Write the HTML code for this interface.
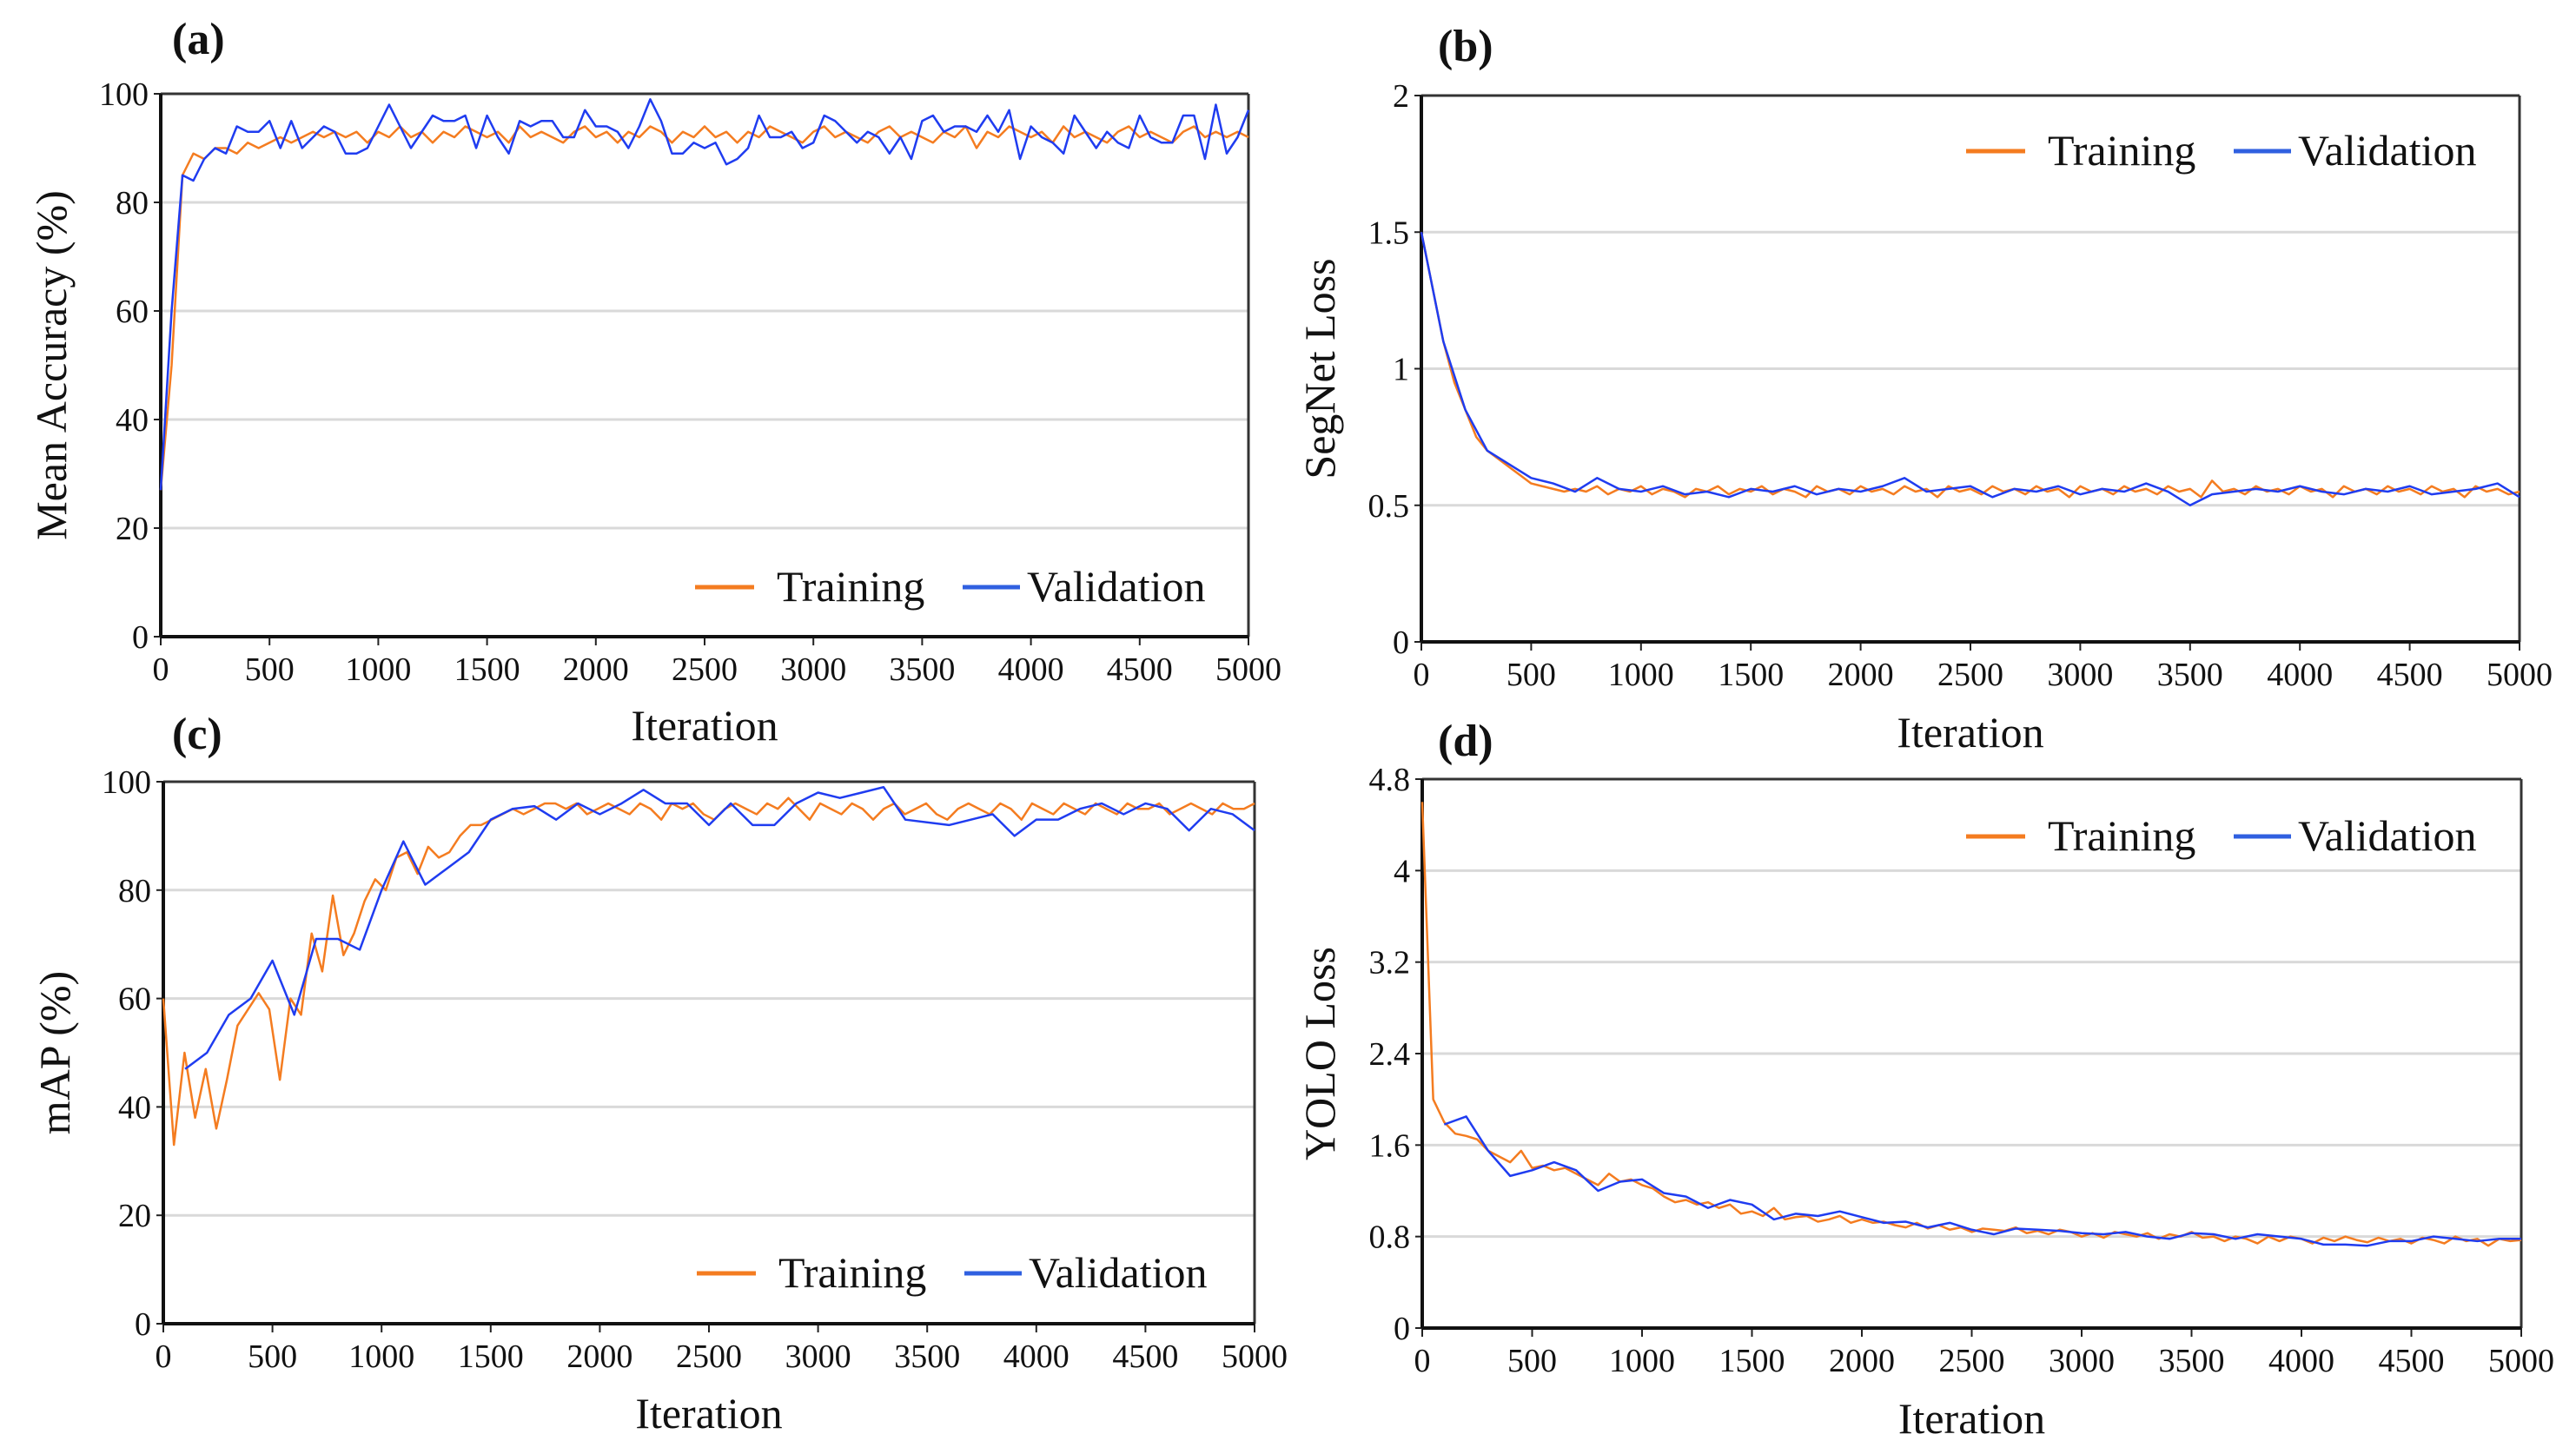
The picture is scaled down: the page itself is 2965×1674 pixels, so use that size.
<!DOCTYPE html>
<html><head><meta charset="utf-8"><style>
body{margin:0;background:#fff}
svg{display:block}
text{font-family:"Liberation Serif",serif;fill:#111}
</style></head><body>
<svg id="fig" width="2965" height="1674" viewBox="0 0 2965 1674" xmlns="http://www.w3.org/2000/svg"></svg>
<script>
const xTicks=[0,500,1000,1500,2000,2500,3000,3500,4000,4500,5000];
const aTicks=[0,20,40,60,80,100];
const bTicks=[0,0.5,1,1.5,2];
const cTicks=[0,20,40,60,80,100];
const dTicks=[0,0.8,1.6,2.4,3.2,4,4.8];
const aTrain=[27,50,85,89,88,90,90,89,91,90,91,92,91,92,93,92,93,92,93,91,93,92,94,92,93,91,93,92,94,93,92,93,91,94,92,93,92,91,93,94,92,93,91,93,92,94,93,91,93,92,94,92,93,91,93,92,94,93,92,91,93,94,92,93,92,91,93,94,92,93,92,91,93,92,94,90,93,92,94,93,92,93,91,94,92,93,92,91,93,94,92,93,92,91,93,94,92,93,92,93,92];
const aVal=[27,60,85,84,88,90,89,94,93,93,95,90,95,90,92,94,93,89,89,90,94,98,94,90,93,96,95,95,96,90,96,92,89,95,94,95,95,92,92,97,94,94,93,90,94,99,95,89,89,91,90,91,87,88,90,96,92,92,93,90,91,96,95,93,91,93,92,89,92,88,95,96,93,94,94,93,96,93,97,88,94,92,91,89,96,93,90,93,91,90,96,92,91,91,96,96,88,98,89,92,97];
const bTrain=[1.5,1.3,1.1,0.95,0.85,0.75,0.7,0.67,0.64,0.61,0.58,0.57,0.56,0.55,0.56,0.55,0.57,0.54,0.56,0.55,0.57,0.54,0.56,0.55,0.53,0.56,0.55,0.57,0.54,0.56,0.55,0.57,0.54,0.56,0.55,0.53,0.57,0.55,0.56,0.54,0.57,0.55,0.56,0.54,0.57,0.55,0.56,0.53,0.57,0.55,0.56,0.54,0.57,0.55,0.56,0.54,0.57,0.55,0.56,0.53,0.57,0.55,0.56,0.54,0.57,0.55,0.56,0.54,0.57,0.55,0.56,0.53,0.59,0.55,0.56,0.54,0.57,0.55,0.56,0.54,0.57,0.55,0.56,0.53,0.57,0.55,0.56,0.54,0.57,0.55,0.56,0.54,0.57,0.55,0.56,0.53,0.57,0.55,0.56,0.54,0.55];
const bVal=[1.5,1.1,0.85,0.7,0.65,0.6,0.58,0.55,0.6,0.56,0.55,0.57,0.54,0.55,0.53,0.56,0.55,0.57,0.54,0.56,0.55,0.57,0.6,0.55,0.56,0.57,0.53,0.56,0.55,0.57,0.54,0.56,0.55,0.58,0.55,0.5,0.54,0.55,0.56,0.55,0.57,0.55,0.54,0.56,0.55,0.57,0.54,0.55,0.56,0.58,0.53];
const cTrain=[60,33,50,38,47,36,45,55,58,61,58,45,60,57,72,65,79,68,72,78,82,80,86,87,83,88,86,87,90,92,92,93,94,95,94,95,96,96,95,96,94,95,96,95,94,96,95,93,96,95,96,94,93,95,96,95,94,96,95,97,95,93,96,95,94,96,95,93,95,96,94,95,96,94,93,95,96,95,94,96,95,93,96,95,94,96,95,94,96,95,94,96,95,95,96,94,95,96,95,94,96,95,95,96];
const cValX=[100,200,300,400,500,600,700,800,900,1000,1100,1200,1300,1400,1500,1600,1700,1800,1900,2000,2100,2200,2300,2400,2500,2600,2700,2800,2900,3000,3100,3200,3300,3400,3600,3800,3900,4000,4100,4200,4300,4400,4500,4600,4700,4800,4900,5000];
const cVal=[47,50,57,60,67,57,71,71,69,80,89,81,84,87,93,95,95.5,93,96,94,96,98.5,96,96,92,96,92,92,96,98,97,98,99,93,92,94,90,93,93,95,96,94,96,95,91,95,94,91];
const dTrain=[4.6,2.0,1.8,1.7,1.68,1.65,1.55,1.5,1.45,1.55,1.4,1.42,1.38,1.4,1.35,1.3,1.25,1.35,1.28,1.3,1.25,1.22,1.15,1.1,1.12,1.08,1.1,1.05,1.08,1.0,1.02,0.98,1.05,0.95,0.97,0.98,0.93,0.95,0.98,0.92,0.95,0.92,0.93,0.9,0.88,0.92,0.87,0.9,0.86,0.88,0.84,0.87,0.86,0.85,0.88,0.83,0.85,0.82,0.86,0.84,0.8,0.83,0.79,0.84,0.82,0.8,0.83,0.78,0.82,0.8,0.84,0.79,0.8,0.76,0.8,0.78,0.74,0.8,0.76,0.8,0.78,0.74,0.79,0.76,0.8,0.77,0.75,0.79,0.76,0.78,0.74,0.79,0.77,0.74,0.8,0.76,0.78,0.72,0.78,0.76,0.77];
const dValX=[100,200,300,400,500,600,700,800,900,1000,1100,1200,1300,1400,1500,1600,1700,1800,1900,2000,2100,2200,2300,2400,2500,2600,2700,2800,2900,3000,3100,3200,3300,3400,3500,3600,3700,3800,3900,4000,4100,4200,4300,4400,4500,4600,4700,4800,4900,5000];
const dVal=[1.78,1.85,1.55,1.33,1.38,1.45,1.38,1.2,1.28,1.3,1.18,1.15,1.05,1.12,1.08,0.95,1.0,0.98,1.02,0.97,0.92,0.93,0.88,0.92,0.86,0.82,0.87,0.86,0.85,0.83,0.82,0.84,0.8,0.78,0.83,0.82,0.78,0.82,0.8,0.78,0.73,0.73,0.72,0.76,0.76,0.8,0.78,0.76,0.78,0.78];

const NS="http://www.w3.org/2000/svg";
const svg=document.getElementById('fig');
function mk(tag,attrs,parent,txt){const e=document.createElementNS(NS,tag);for(const k in attrs)e.setAttribute(k,attrs[k]);if(txt!==undefined)e.textContent=txt;(parent||svg).appendChild(e);return e;}
function idx(arr){return arr.map((v,i)=>i*5000/(arr.length-1));}

function panel(p){
  const g=mk('g',{});
  
  
  const X=v=>p.l+(v/5000)*(p.r-p.l);
  const Y=v=>p.b-(v-p.ymin)/(p.ymax-p.ymin)*(p.b-p.t);
  p.yt.forEach(v=>{
    if(v!==p.ymin&&v!==p.ymax){const gl=mk('line',{x1:p.l,x2:p.r,y1:Y(v),y2:Y(v),stroke:'#d9d9d9','stroke-width':3},g);
      }
    mk('line',{x1:p.l-8,x2:p.l,y1:Y(v),y2:Y(v),stroke:'#222','stroke-width':2},g);
    const t=mk('text',{x:p.l-14,y:Y(v)+13,'text-anchor':'end','font-size':38},g,String(v));
    
  });
  xTicks.forEach(v=>{
    mk('line',{x1:X(v),x2:X(v),y1:p.b,y2:p.b+10,stroke:'#222','stroke-width':2},g);
    const t=mk('text',{x:X(v),y:p.b+50,'text-anchor':'middle','font-size':38},g,String(v));
    
  });
  mk('line',{x1:p.l,x2:p.r,y1:p.t,y2:p.t,stroke:'#333','stroke-width':3},g);
  mk('line',{x1:p.r,x2:p.r,y1:p.t,y2:p.b,stroke:'#333','stroke-width':3},g);
  const ya=mk('line',{x1:p.l,x2:p.l,y1:p.t,y2:p.b,stroke:'#111','stroke-width':4},g);
  
  const xa=mk('line',{x1:p.l,x2:p.r,y1:p.b,y2:p.b,stroke:'#111','stroke-width':4},g);
  
  const tx=idx(p.train);
  const tr=mk('polyline',{points:p.train.map((v,i)=>X(tx[i])+','+Y(v)).join(' '),fill:'none',stroke:'#f47c20','stroke-width':2.5,'stroke-linejoin':'round'},g);
  
  const vx=p.valX||idx(p.val);
  const va=mk('polyline',{points:p.val.map((v,i)=>X(vx[i])+','+Y(v)).join(' '),fill:'none',stroke:'#1f3cf0','stroke-width':2.5,'stroke-linejoin':'round'},g);
  
  const lg=mk('g',{},g);
  
  mk('line',{x1:p.lx,x2:p.lx+68,y1:p.ly,y2:p.ly,stroke:'#f47c20','stroke-width':5},lg);
  mk('text',{x:p.lx+94,y:p.ly+16,'font-size':50},lg,'Training');
  mk('line',{x1:p.lx+308,x2:p.lx+374,y1:p.ly,y2:p.ly,stroke:'#3060e0','stroke-width':5},lg);
  mk('text',{x:p.lx+382,y:p.ly+16,'font-size':50},lg,'Validation');
  const xt=mk('text',{x:(p.l+p.r)/2,y:p.xty,'text-anchor':'middle','font-size':50},g,'Iteration');
  
  const yt=mk('text',{x:p.ytx,y:(p.t+p.b)/2,'text-anchor':'middle','font-size':50,transform:`rotate(-90 ${p.ytx} ${(p.t+p.b)/2})`},g,p.ytitle);
  
  const pl=mk('text',{x:p.pl[0],y:p.pl[1],'font-size':52,'font-weight':'bold'},g,'('+p.id+')');
  
}
panel({id:'a',l:185,r:1437,t:108,b:733,ymin:0,ymax:100,yt:aTicks,train:aTrain,val:aVal,lx:800,ly:676,xty:852,ytx:76,ytitle:'Mean Accuracy (%)',pl:[198,62]});
panel({id:'b',l:1636,r:2900,t:110,b:739,ymin:0,ymax:2,yt:bTicks,train:bTrain,val:bVal,valX:null,lx:2263,ly:174,xty:860,ytx:1536,ytitle:'SegNet Loss',pl:[1655,70]});
panel({id:'c',l:188,r:1444,t:900,b:1524,ymin:0,ymax:100,yt:cTicks,train:cTrain,val:cVal,valX:cValX,lx:802,ly:1466,xty:1644,ytx:80,ytitle:'mAP (%)',pl:[198,862]});
panel({id:'d',l:1637,r:2902,t:897,b:1529,ymin:0,ymax:4.8,yt:dTicks,train:dTrain,val:dVal,valX:dValX,lx:2263,ly:963,xty:1650,ytx:1536,ytitle:'YOLO Loss',pl:[1655,870]});
</script>
</body></html>
